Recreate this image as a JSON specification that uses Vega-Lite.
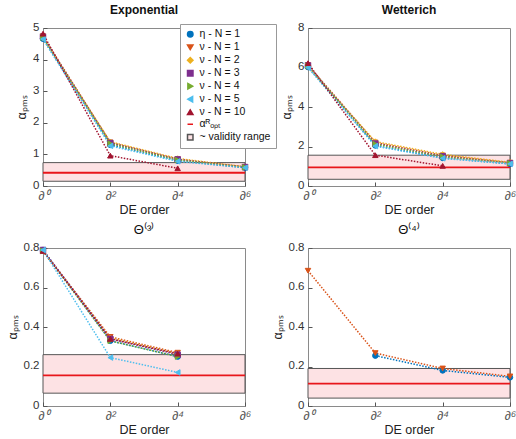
{
  "$schema": "https://vega.github.io/schema/vega-lite/v6.json",
  "padding": {"left": 5, "top": 3, "right": 2, "bottom": 0},
  "bounds": "flush",
  "config": {
    "font": "Liberation Sans",
    "view": {"stroke": "#8a8a8a", "strokeWidth": 1},
    "axis": {"grid": false, "domain": false, "tickSize": -4, "tickColor": "#555", "labelColor": "#333", "labelFontSize": 11.5, "titleFontSize": 12.5, "titleFontWeight": "normal", "titleColor": "#222", "labelPadding": 7, "labelOverlap": false, "labelBound": false, "labelFlush": false},
    "axisY": {"labelPadding": 8, "labelOffset": -1},
    "title": {"fontSize": 12, "fontWeight": "bold", "color": "#111", "offset": 4},
    "legend": {"labelFontSize": 10, "labelColor": "#111"}
  },
  "datasets": {
    "pts": [
      {"panel": "Exponential", "series": "η - N = 1", "order": 0, "value": 4.66},
      {"panel": "Exponential", "series": "ν - N = 1", "order": 0, "value": 4.74},
      {"panel": "Exponential", "series": "ν - N = 2", "order": 0, "value": 4.68},
      {"panel": "Exponential", "series": "ν - N = 3", "order": 0, "value": 4.72},
      {"panel": "Exponential", "series": "ν - N = 4", "order": 0, "value": 4.70},
      {"panel": "Exponential", "series": "ν - N = 5", "order": 0, "value": 4.65},
      {"panel": "Exponential", "series": "ν - N = 10", "order": 0, "value": 4.82},
      {"panel": "Exponential", "series": "η - N = 1", "order": 2, "value": 1.30},
      {"panel": "Exponential", "series": "ν - N = 1", "order": 2, "value": 1.38},
      {"panel": "Exponential", "series": "ν - N = 2", "order": 2, "value": 1.40},
      {"panel": "Exponential", "series": "ν - N = 3", "order": 2, "value": 1.36},
      {"panel": "Exponential", "series": "ν - N = 4", "order": 2, "value": 1.34},
      {"panel": "Exponential", "series": "ν - N = 5", "order": 2, "value": 1.27},
      {"panel": "Exponential", "series": "ν - N = 10", "order": 2, "value": 0.96},
      {"panel": "Exponential", "series": "η - N = 1", "order": 4, "value": 0.80},
      {"panel": "Exponential", "series": "ν - N = 1", "order": 4, "value": 0.85},
      {"panel": "Exponential", "series": "ν - N = 2", "order": 4, "value": 0.87},
      {"panel": "Exponential", "series": "ν - N = 3", "order": 4, "value": 0.84},
      {"panel": "Exponential", "series": "ν - N = 4", "order": 4, "value": 0.82},
      {"panel": "Exponential", "series": "ν - N = 5", "order": 4, "value": 0.78},
      {"panel": "Exponential", "series": "ν - N = 10", "order": 4, "value": 0.56},
      {"panel": "Exponential", "series": "η - N = 1", "order": 6, "value": 0.58},
      {"panel": "Exponential", "series": "ν - N = 1", "order": 6, "value": 0.60},
      {"panel": "Exponential", "series": "ν - N = 2", "order": 6, "value": 0.61},
      {"panel": "Exponential", "series": "ν - N = 3", "order": 6, "value": 0.60},
      {"panel": "Exponential", "series": "ν - N = 4", "order": 6, "value": 0.59},
      {"panel": "Exponential", "series": "ν - N = 5", "order": 6, "value": 0.58},

      {"panel": "Wetterich", "series": "η - N = 1", "order": 0, "value": 6.02},
      {"panel": "Wetterich", "series": "ν - N = 1", "order": 0, "value": 6.12},
      {"panel": "Wetterich", "series": "ν - N = 2", "order": 0, "value": 6.05},
      {"panel": "Wetterich", "series": "ν - N = 3", "order": 0, "value": 6.10},
      {"panel": "Wetterich", "series": "ν - N = 4", "order": 0, "value": 6.08},
      {"panel": "Wetterich", "series": "ν - N = 5", "order": 0, "value": 6.00},
      {"panel": "Wetterich", "series": "ν - N = 10", "order": 0, "value": 6.22},
      {"panel": "Wetterich", "series": "η - N = 1", "order": 2, "value": 2.05},
      {"panel": "Wetterich", "series": "ν - N = 1", "order": 2, "value": 2.20},
      {"panel": "Wetterich", "series": "ν - N = 2", "order": 2, "value": 2.25},
      {"panel": "Wetterich", "series": "ν - N = 3", "order": 2, "value": 2.15},
      {"panel": "Wetterich", "series": "ν - N = 4", "order": 2, "value": 2.12},
      {"panel": "Wetterich", "series": "ν - N = 5", "order": 2, "value": 2.02},
      {"panel": "Wetterich", "series": "ν - N = 10", "order": 2, "value": 1.56},
      {"panel": "Wetterich", "series": "η - N = 1", "order": 4, "value": 1.42},
      {"panel": "Wetterich", "series": "ν - N = 1", "order": 4, "value": 1.55},
      {"panel": "Wetterich", "series": "ν - N = 2", "order": 4, "value": 1.60},
      {"panel": "Wetterich", "series": "ν - N = 3", "order": 4, "value": 1.50},
      {"panel": "Wetterich", "series": "ν - N = 4", "order": 4, "value": 1.48},
      {"panel": "Wetterich", "series": "ν - N = 5", "order": 4, "value": 1.40},
      {"panel": "Wetterich", "series": "ν - N = 10", "order": 4, "value": 1.02},
      {"panel": "Wetterich", "series": "η - N = 1", "order": 6, "value": 1.12},
      {"panel": "Wetterich", "series": "ν - N = 1", "order": 6, "value": 1.18},
      {"panel": "Wetterich", "series": "ν - N = 2", "order": 6, "value": 1.20},
      {"panel": "Wetterich", "series": "ν - N = 3", "order": 6, "value": 1.16},
      {"panel": "Wetterich", "series": "ν - N = 4", "order": 6, "value": 1.15},
      {"panel": "Wetterich", "series": "ν - N = 5", "order": 6, "value": 1.12},

      {"panel": "Theta3", "series": "η - N = 1", "order": 0, "value": 0.79},
      {"panel": "Theta3", "series": "ν - N = 1", "order": 0, "value": 0.785},
      {"panel": "Theta3", "series": "ν - N = 2", "order": 0, "value": 0.785},
      {"panel": "Theta3", "series": "ν - N = 3", "order": 0, "value": 0.79},
      {"panel": "Theta3", "series": "ν - N = 4", "order": 0, "value": 0.785},
      {"panel": "Theta3", "series": "ν - N = 10", "order": 0, "value": 0.785},
      {"panel": "Theta3", "series": "ν - N = 5", "order": 0, "value": 0.79},
      {"panel": "Theta3", "series": "η - N = 1", "order": 2, "value": 0.33},
      {"panel": "Theta3", "series": "ν - N = 1", "order": 2, "value": 0.35},
      {"panel": "Theta3", "series": "ν - N = 2", "order": 2, "value": 0.345},
      {"panel": "Theta3", "series": "ν - N = 3", "order": 2, "value": 0.34},
      {"panel": "Theta3", "series": "ν - N = 4", "order": 2, "value": 0.33},
      {"panel": "Theta3", "series": "ν - N = 10", "order": 2, "value": 0.34},
      {"panel": "Theta3", "series": "ν - N = 5", "order": 2, "value": 0.245},
      {"panel": "Theta3", "series": "η - N = 1", "order": 4, "value": 0.25},
      {"panel": "Theta3", "series": "ν - N = 1", "order": 4, "value": 0.27},
      {"panel": "Theta3", "series": "ν - N = 2", "order": 4, "value": 0.265},
      {"panel": "Theta3", "series": "ν - N = 3", "order": 4, "value": 0.26},
      {"panel": "Theta3", "series": "ν - N = 4", "order": 4, "value": 0.25},
      {"panel": "Theta3", "series": "ν - N = 10", "order": 4, "value": 0.265},
      {"panel": "Theta3", "series": "ν - N = 5", "order": 4, "value": 0.17},

      {"panel": "Theta4", "series": "ν - N = 1", "order": 0, "value": 0.685},
      {"panel": "Theta4", "series": "η - N = 1", "order": 2, "value": 0.255},
      {"panel": "Theta4", "series": "ν - N = 1", "order": 2, "value": 0.268},
      {"panel": "Theta4", "series": "η - N = 1", "order": 4, "value": 0.18},
      {"panel": "Theta4", "series": "ν - N = 1", "order": 4, "value": 0.19},
      {"panel": "Theta4", "series": "η - N = 1", "order": 6, "value": 0.145},
      {"panel": "Theta4", "series": "ν - N = 1", "order": 6, "value": 0.15}
    ],
    "ranges": [
      {"panel": "Exponential", "lo": 0.15, "hi": 0.74, "opt": 0.42, "x0": 0, "x1": 6},
      {"panel": "Wetterich", "lo": 0.34, "hi": 1.56, "opt": 0.94, "x0": 0, "x1": 6},
      {"panel": "Theta3", "lo": 0.065, "hi": 0.26, "opt": 0.155, "x0": 0, "x1": 6},
      {"panel": "Theta4", "lo": 0.04, "hi": 0.19, "opt": 0.113, "x0": 0, "x1": 6}
    ]
  },
  "columns": 2,
  "spacing": {"column": 63, "row": 62},
  "resolve": {"scale": {"y": "independent"}},
  "concat": [
    {
      "title": {"text": "Exponential", "fontWeight": "bold"},
      "width": 202, "height": 158,
      "encoding": {
        "x": {"type": "quantitative", "scale": {"domain": [0, 6]}, "axis": {"values": [0, 2, 4, 6], "labelOverlap": false, "labelExpr": "datum.value == 0 ? '∂⁰' : datum.value == 2 ? '∂²' : datum.value == 4 ? '∂⁴' : '∂⁶'", "labelAngle": 0, "labelAlign": "center", "labelBaseline": "top", "labelFontSize": 12.5, "labelFontStyle": "italic", "labelColor": "#555", "labelPadding": 7, "title": "DE order", "titlePadding": 2}},
        "y": {"type": "quantitative", "scale": {"domain": [0, 5], "nice": false}, "axis": {"values": [0, 1, 2, 3, 4, 5], "labelOverlap": false, "format": "~g", "title": "αₚₘₛ"}}
      },
      "layer": [
        {"data": {"name": "ranges"}, "transform": [{"filter": "datum.panel === 'Exponential'"}],
         "mark": {"type": "rect", "fill": "#fde2e4", "stroke": "#555", "strokeWidth": 1},
         "encoding": {"x": {"field": "x0"}, "x2": {"field": "x1"}, "y": {"field": "lo"}, "y2": {"field": "hi"}}},
        {"data": {"name": "ranges"}, "transform": [{"filter": "datum.panel === 'Exponential'"}],
         "mark": {"type": "rule", "color": "#e8161b", "strokeWidth": 1.8},
         "encoding": {"x": {"field": "x0"}, "x2": {"field": "x1"}, "y": {"field": "opt"}}},
        {"data": {"name": "pts"}, "transform": [{"filter": "datum.panel === 'Exponential'"}],
         "mark": {"type": "line", "strokeWidth": 1.5, "strokeDash": [1.5, 1.5]},
         "encoding": {"x": {"field": "order"}, "y": {"field": "value"}, "detail": {"field": "series"},
           "stroke": {"field": "series", "type": "nominal"}}},
        {"data": {"name": "pts"}, "transform": [{"filter": "datum.panel === 'Exponential'"}],
         "mark": {"type": "point", "filled": true, "size": 30, "strokeWidth": 1, "opacity": 1},
         "encoding": {"x": {"field": "order"}, "y": {"field": "value"},
           "fill": {"field": "series", "type": "nominal"},
           "stroke": {"field": "series", "type": "nominal"},
           "shape": {"field": "series", "type": "nominal"}}}
      ]
    },
    {
      "title": {"text": "Wetterich", "fontWeight": "bold"},
      "width": 202, "height": 158,
      "encoding": {
        "x": {"type": "quantitative", "scale": {"domain": [0, 6]}, "axis": {"values": [0, 2, 4, 6], "labelOverlap": false, "labelExpr": "datum.value == 0 ? '∂⁰' : datum.value == 2 ? '∂²' : datum.value == 4 ? '∂⁴' : '∂⁶'", "labelAngle": 0, "labelAlign": "center", "labelBaseline": "top", "labelFontSize": 12.5, "labelFontStyle": "italic", "labelColor": "#555", "labelPadding": 7, "title": "DE order", "titlePadding": 2}},
        "y": {"type": "quantitative", "scale": {"domain": [0, 8], "nice": false}, "axis": {"values": [0, 2, 4, 6, 8], "labelOverlap": false, "format": "~g", "title": "αₚₘₛ"}}
      },
      "layer": [
        {"data": {"name": "ranges"}, "transform": [{"filter": "datum.panel === 'Wetterich'"}],
         "mark": {"type": "rect", "fill": "#fde2e4", "stroke": "#555", "strokeWidth": 1},
         "encoding": {"x": {"field": "x0"}, "x2": {"field": "x1"}, "y": {"field": "lo"}, "y2": {"field": "hi"}}},
        {"data": {"name": "ranges"}, "transform": [{"filter": "datum.panel === 'Wetterich'"}],
         "mark": {"type": "rule", "color": "#e8161b", "strokeWidth": 1.8},
         "encoding": {"x": {"field": "x0"}, "x2": {"field": "x1"}, "y": {"field": "opt"}}},
        {"data": {"name": "pts"}, "transform": [{"filter": "datum.panel === 'Wetterich'"}],
         "mark": {"type": "line", "strokeWidth": 1.5, "strokeDash": [1.5, 1.5]},
         "encoding": {"x": {"field": "order"}, "y": {"field": "value"}, "detail": {"field": "series"},
           "stroke": {"field": "series", "type": "nominal"}}},
        {"data": {"name": "pts"}, "transform": [{"filter": "datum.panel === 'Wetterich'"}],
         "mark": {"type": "point", "filled": true, "size": 30, "strokeWidth": 1, "opacity": 1},
         "encoding": {"x": {"field": "order"}, "y": {"field": "value"},
           "fill": {"field": "series", "type": "nominal"},
           "stroke": {"field": "series", "type": "nominal"},
           "shape": {"field": "series", "type": "nominal"}}}
      ]
    },
    {
      "title": {"text": "Θ⁽³⁾", "fontWeight": "normal", "fontSize": 13},
      "width": 202, "height": 158,
      "encoding": {
        "x": {"type": "quantitative", "scale": {"domain": [0, 6]}, "axis": {"values": [0, 2, 4, 6], "labelOverlap": false, "labelExpr": "datum.value == 0 ? '∂⁰' : datum.value == 2 ? '∂²' : datum.value == 4 ? '∂⁴' : '∂⁶'", "labelAngle": 0, "labelAlign": "center", "labelBaseline": "top", "labelFontSize": 12.5, "labelFontStyle": "italic", "labelColor": "#555", "labelPadding": 7, "title": "DE order", "titlePadding": 2}},
        "y": {"type": "quantitative", "scale": {"domain": [0, 0.8], "nice": false}, "axis": {"values": [0, 0.2, 0.4, 0.6, 0.8], "labelOverlap": false, "format": "~g", "title": "αₚₘₛ"}}
      },
      "layer": [
        {"data": {"name": "ranges"}, "transform": [{"filter": "datum.panel === 'Theta3'"}],
         "mark": {"type": "rect", "fill": "#fde2e4", "stroke": "#555", "strokeWidth": 1},
         "encoding": {"x": {"field": "x0"}, "x2": {"field": "x1"}, "y": {"field": "lo"}, "y2": {"field": "hi"}}},
        {"data": {"name": "ranges"}, "transform": [{"filter": "datum.panel === 'Theta3'"}],
         "mark": {"type": "rule", "color": "#e8161b", "strokeWidth": 1.8},
         "encoding": {"x": {"field": "x0"}, "x2": {"field": "x1"}, "y": {"field": "opt"}}},
        {"data": {"name": "pts"}, "transform": [{"filter": "datum.panel === 'Theta3'"}],
         "mark": {"type": "line", "strokeWidth": 1.5, "strokeDash": [1.5, 1.5]},
         "encoding": {"x": {"field": "order"}, "y": {"field": "value"}, "detail": {"field": "series"},
           "stroke": {"field": "series", "type": "nominal"}}},
        {"data": {"name": "pts"}, "transform": [{"filter": "datum.panel === 'Theta3'"}],
         "mark": {"type": "point", "filled": true, "size": 30, "strokeWidth": 1, "opacity": 1},
         "encoding": {"x": {"field": "order"}, "y": {"field": "value"},
           "fill": {"field": "series", "type": "nominal"},
           "stroke": {"field": "series", "type": "nominal"},
           "shape": {"field": "series", "type": "nominal"}}}
      ]
    },
    {
      "title": {"text": "Θ⁽⁴⁾", "fontWeight": "normal", "fontSize": 13},
      "width": 202, "height": 158,
      "encoding": {
        "x": {"type": "quantitative", "scale": {"domain": [0, 6]}, "axis": {"values": [0, 2, 4, 6], "labelOverlap": false, "labelExpr": "datum.value == 0 ? '∂⁰' : datum.value == 2 ? '∂²' : datum.value == 4 ? '∂⁴' : '∂⁶'", "labelAngle": 0, "labelAlign": "center", "labelBaseline": "top", "labelFontSize": 12.5, "labelFontStyle": "italic", "labelColor": "#555", "labelPadding": 7, "title": "DE order", "titlePadding": 2}},
        "y": {"type": "quantitative", "scale": {"domain": [0, 0.8], "nice": false}, "axis": {"values": [0, 0.2, 0.4, 0.6, 0.8], "labelOverlap": false, "format": "~g", "title": "αₚₘₛ"}}
      },
      "layer": [
        {"data": {"name": "ranges"}, "transform": [{"filter": "datum.panel === 'Theta4'"}],
         "mark": {"type": "rect", "fill": "#fde2e4", "stroke": "#555", "strokeWidth": 1},
         "encoding": {"x": {"field": "x0"}, "x2": {"field": "x1"}, "y": {"field": "lo"}, "y2": {"field": "hi"}}},
        {"data": {"name": "ranges"}, "transform": [{"filter": "datum.panel === 'Theta4'"}],
         "mark": {"type": "rule", "color": "#e8161b", "strokeWidth": 1.8},
         "encoding": {"x": {"field": "x0"}, "x2": {"field": "x1"}, "y": {"field": "opt"}}},
        {"data": {"name": "pts"}, "transform": [{"filter": "datum.panel === 'Theta4'"}],
         "mark": {"type": "line", "strokeWidth": 1.5, "strokeDash": [1.5, 1.5]},
         "encoding": {"x": {"field": "order"}, "y": {"field": "value"}, "detail": {"field": "series"},
           "stroke": {"field": "series", "type": "nominal"}}},
        {"data": {"name": "pts"}, "transform": [{"filter": "datum.panel === 'Theta4'"}],
         "mark": {"type": "point", "filled": true, "size": 30, "strokeWidth": 1, "opacity": 1},
         "encoding": {"x": {"field": "order"}, "y": {"field": "value"},
           "fill": {"field": "series", "type": "nominal", "scale": {"domain": ["η - N = 1", "ν - N = 1", "ν - N = 2", "ν - N = 3", "ν - N = 4", "ν - N = 5", "ν - N = 10", "αᴿₒₚₜ", "~ validity range"], "range": ["#0072BD", "#D95319", "#EDB120", "#7E2F8E", "#77AC30", "#4DBEEE", "#A2142F", "#e8161b", "#fde2e4"]},
             "legend": {"orient": "none", "legendX": 137, "legendY": -4, "title": null, "strokeColor": "#999", "fillColor": "white", "padding": 5, "rowPadding": 1, "symbolSize": 30, "symbolStrokeWidth": 1.5, "labelFontSize": 10.5}},
           "stroke": {"field": "series", "type": "nominal", "scale": {"domain": ["η - N = 1", "ν - N = 1", "ν - N = 2", "ν - N = 3", "ν - N = 4", "ν - N = 5", "ν - N = 10", "αᴿₒₚₜ", "~ validity range"], "range": ["#0072BD", "#D95319", "#EDB120", "#7E2F8E", "#77AC30", "#4DBEEE", "#A2142F", "#e8161b", "#555555"]}},
           "shape": {"field": "series", "type": "nominal", "scale": {"domain": ["η - N = 1", "ν - N = 1", "ν - N = 2", "ν - N = 3", "ν - N = 4", "ν - N = 5", "ν - N = 10", "αᴿₒₚₜ", "~ validity range"], "range": ["circle", "triangle-down", "diamond", "square", "triangle-right", "triangle-left", "triangle-up", "stroke", "square"]}}}}
      ]
    }
  ]
}
